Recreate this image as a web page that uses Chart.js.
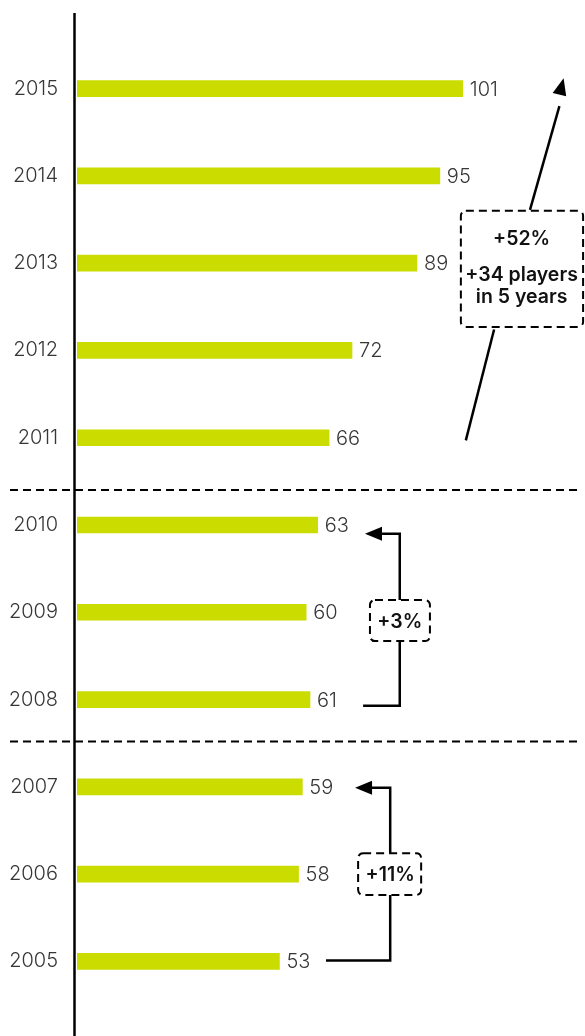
<!DOCTYPE html>
<html>
<head>
<meta charset="utf-8">
<script src="https://cdn.jsdelivr.net/npm/chart.js@4"></script>
<style>
  html, body { margin: 0; padding: 0; background: #fff; }
  canvas { display: block; }
</style>
</head>
<body>
<canvas id="playersChart" width="585" height="1036"></canvas>
<script>
// years top to bottom, and number of players per year
const years = ['2015', '2014', '2013', '2012', '2011', '2010', '2009', '2008', '2007', '2006', '2005'];
const players = [101, 95, 89, 72, 66, 63, 60, 61, 59, 58, 53];

// period separators, in category units (between 2011/2010 and 2008/2007)
const separators = [4.6, 7.48];

const BAR_COLOR = '#cadc00';
const TEXT_COLOR = '#363636';

// helpers
function dashedRoundRect(ctx, x1, y1, x2, y2, r) {
  ctx.save();
  ctx.setLineDash([8, 5]);
  ctx.lineWidth = 2;
  ctx.strokeStyle = '#000';
  ctx.beginPath();
  ctx.roundRect(x1, y1, x2 - x1, y2 - y1, r);
  ctx.stroke();
  ctx.restore();
}

function arrowHead(ctx, fromX, fromY, toX, toY) {
  const ang = Math.atan2(toY - fromY, toX - fromX);
  const len = 17, half = 7;
  ctx.beginPath();
  ctx.moveTo(toX, toY);
  ctx.lineTo(toX - len * Math.cos(ang) + half * Math.sin(ang), toY - len * Math.sin(ang) - half * Math.cos(ang));
  ctx.lineTo(toX - len * Math.cos(ang) - half * Math.sin(ang), toY - len * Math.sin(ang) + half * Math.cos(ang));
  ctx.closePath();
  ctx.fill();
}

function polyline(ctx, pts) {
  ctx.beginPath();
  ctx.moveTo(pts[0][0], pts[0][1]);
  for (let i = 1; i < pts.length; i++) ctx.lineTo(pts[i][0], pts[i][1]);
  ctx.stroke();
}

const valueLabels = {
  id: 'valueLabels',
  afterDatasetsDraw(chart) {
    const ctx = chart.ctx;
    const meta = chart.getDatasetMeta(0);
    ctx.save();
    ctx.font = '300 20px Inter';
    ctx.fillStyle = TEXT_COLOR;
    ctx.textBaseline = 'middle';
    ctx.textAlign = 'left';
    meta.data.forEach((bar, i) => {
      ctx.fillText(String(players[i]), bar.x + 7, bar.y + 1);
    });
    ctx.restore();
  }
};

const decorations = {
  id: 'decorations',
  afterDraw(chart) {
    const ctx = chart.ctx;
    const xs = chart.scales.x;
    const ys = chart.scales.y;
    const X = (v) => xs.getPixelForValue(v);
    const Y = (i) => ys.getPixelForValue(i);
    const area = chart.chartArea;

    ctx.save();

    // vertical axis line
    ctx.strokeStyle = '#000';
    ctx.lineWidth = 2.5;
    ctx.beginPath();
    ctx.moveTo(area.left - 2.5, 13);
    ctx.lineTo(area.left - 2.5, chart.height);
    ctx.stroke();

    // dashed period separators
    ctx.setLineDash([8, 5]);
    ctx.lineWidth = 2;
    separators.forEach((s) => {
      ctx.beginPath();
      ctx.moveTo(10, Y(s));
      ctx.lineTo(577, Y(s));
      ctx.stroke();
    });
    ctx.setLineDash([]);

    ctx.fillStyle = '#000';
    ctx.lineWidth = 2.5;

    // 2011 -> 2015 annotation
    dashedRoundRect(ctx, X(100.5), Y(1.40), X(132.5), Y(2.73), 5);
    polyline(ctx, [[X(118.6), Y(1.39)], [X(126.3), Y(0.2)]]);
    arrowHead(ctx, X(118.6), Y(1.39), X(127.4), Y(-0.12));
    polyline(ctx, [[X(109.2), Y(2.76)], [X(101.8), Y(4.03)]]);

    // 2008 -> 2010 annotation
    dashedRoundRect(ctx, X(76.7), Y(5.86), X(92.4), Y(6.33), 5);
    polyline(ctx, [[X(84.5), Y(5.86)], [X(84.5), Y(5.10)], [X(78.5), Y(5.10)]]);
    arrowHead(ctx, X(84.5), Y(5.10), X(75.4), Y(5.10));
    polyline(ctx, [[X(84.5), Y(6.33)], [X(84.5), Y(7.07)], [X(74.9), Y(7.07)]]);

    // 2005 -> 2007 annotation
    dashedRoundRect(ctx, X(73.6), Y(8.76), X(90.1), Y(9.24), 5);
    polyline(ctx, [[X(82), Y(8.76)], [X(82), Y(8.01)], [X(76), Y(8.01)]]);
    arrowHead(ctx, X(82), Y(8.01), X(72.8), Y(8.01));
    polyline(ctx, [[X(82), Y(9.24)], [X(82), Y(9.99)], [X(65.2), Y(9.99)]]);

    // annotation texts
    ctx.fillStyle = '#111';
    ctx.textAlign = 'center';
    ctx.textBaseline = 'middle';
    ctx.font = '600 19.5px Inter';
    ctx.fillText('+52%', X(116.4), Y(1.72));
    ctx.fillText('+34 players', X(116.4), Y(2.14));
    ctx.fillText('in 5 years', X(116.4), Y(2.39));
    ctx.fillText('+3%', X(84.5), Y(6.11));
    ctx.fillText('+11%', X(82), Y(9.01));

    ctx.restore();
  }
};

new Chart(document.getElementById('playersChart'), {
  type: 'bar',
  data: {
    labels: years,
    datasets: [{
      data: players,
      backgroundColor: BAR_COLOR,
      barThickness: 16,
      borderWidth: 0
    }]
  },
  options: {
    indexAxis: 'y',
    responsive: false,
    animation: false,
    layout: { padding: { top: 45, bottom: 23, left: 0, right: 0 } },
    plugins: {
      legend: { display: false },
      tooltip: { enabled: false }
    },
    scales: {
      x: { display: false, min: 0, max: 133 },
      y: {
        grid: { display: false, drawTicks: false },
        border: { display: false },
        ticks: {
          padding: 19,
          color: TEXT_COLOR,
          font: { family: 'Inter', weight: '300', size: 20 }
        },
        afterFit(scale) { scale.width = 77; }
      }
    }
  },
  plugins: [valueLabels, decorations]
});
</script>
</body>
</html>
